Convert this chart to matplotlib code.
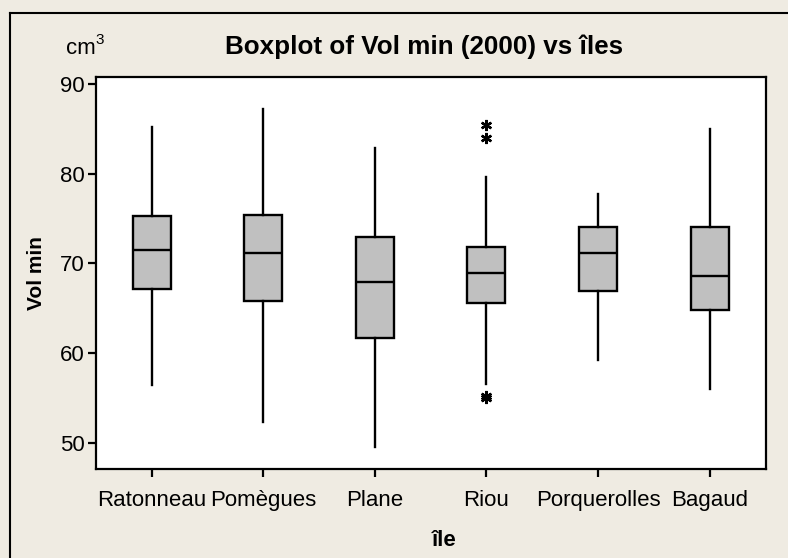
import matplotlib
matplotlib.use("Agg")
import matplotlib.pyplot as plt
from matplotlib.lines import Line2D

plt.rcParams['font.family'] = ['Liberation Sans', 'DejaVu Sans']

categories = ["Ratonneau", "Pomègues", "Plane", "Riou", "Porquerolles", "Bagaud"]
whisker_low = [56.4, 52.3, 49.5, 56.6, 59.2, 56.0]
q1 = [67.1, 65.8, 61.7, 65.6, 66.9, 64.8]
median = [71.5, 71.2, 67.9, 68.9, 71.1, 68.6]
q3 = [75.3, 75.4, 72.9, 71.8, 74.1, 74.1]
whisker_high = [85.2, 87.2, 82.8, 79.6, 77.7, 85.0]
outliers = [[], [], [], [85.4, 84.0, 55.2, 55.0], [], []]
yticks = [50, 60, 70, 80, 90]

BG = "#EFEBE2"
fig = plt.figure(figsize=(7.88, 5.58), dpi=100, facecolor=BG)
ax = fig.add_axes([0.1215, 0.16, 0.85, 0.7025])
ax.set_facecolor("white")

stats = []
for i, c in enumerate(categories):
    stats.append(dict(label=c, whislo=whisker_low[i], q1=q1[i], med=median[i],
                      q3=q3[i], whishi=whisker_high[i], fliers=outliers[i]))

ax.bxp(stats, positions=range(1, len(categories) + 1), widths=0.34,
       patch_artist=True, showcaps=False,
       boxprops=dict(facecolor="#C0C0C0", edgecolor="black", linewidth=1.7),
       medianprops=dict(color="black", linewidth=1.7),
       whiskerprops=dict(color="black", linewidth=1.7),
       flierprops=dict(marker=(6, 2, 0), markersize=8, markeredgecolor="black",
                       markerfacecolor="black", markeredgewidth=1.7, linestyle="none"))

ax.set_xlim(0.5, 6.5)
ax.set_ylim(47.1, 90.8)
ax.set_yticks(yticks)
ax.set_xticks(range(1, len(categories) + 1))
ax.set_xticklabels(categories)
for s in ["top", "right", "bottom", "left"]:
    ax.spines[s].set_linewidth(1.6)
ax.tick_params(axis="both", direction="out", length=6, width=1.6,
               labelsize=16, colors="black")
ax.tick_params(axis="x", pad=9)
ax.tick_params(axis="y", pad=2)

ax.set_ylabel("Vol min", fontsize=15, fontweight="bold", labelpad=10)
fig.text(444 / 788, 1 - 540 / 558, "île", fontsize=16, fontweight="bold",
         ha="center", va="center")
fig.text(424 / 788, 1 - 47 / 558, "Boxplot of Vol min (2000) vs îles",
         fontsize=18.7, fontweight="bold", ha="center", va="center")
fig.text(96 / 788, 1 - 54 / 558, "cm", fontsize=16, ha="right", va="baseline")
fig.text(95.5 / 788, 1 - 44 / 558, "3", fontsize=11, ha="left", va="baseline")

x0 = 10 / 788
y0 = 1 - 12.5 / 558
fig.add_artist(Line2D([x0, 1.0], [y0, y0], transform=fig.transFigure,
                      color="black", linewidth=1.5))
fig.add_artist(Line2D([x0, x0], [0.0, y0], transform=fig.transFigure,
                      color="black", linewidth=1.5))

fig.savefig("out.png", dpi=100, facecolor=BG)
